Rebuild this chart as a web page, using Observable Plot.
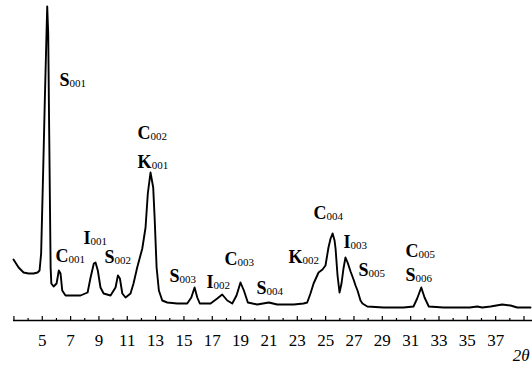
<!DOCTYPE html>
<html>
<head>
<meta charset="utf-8">
<script src="https://cdn.jsdelivr.net/npm/d3@7"></script>
<script src="https://cdn.jsdelivr.net/npm/@observablehq/plot@0.6"></script>
<style>
  html, body { margin: 0; padding: 0; background: #fff; }
  #chart svg { display: block; }
</style>
</head>
<body>
<div id="chart"></div>
<script>
// 2θ positions (degrees)
const twoTheta = [2.97, 3.33, 3.68, 4.03, 4.39, 4.67, 4.81, 4.92, 5.07, 5.18, 5.30, 5.35, 5.42, 5.49, 5.54, 5.59, 5.64, 5.80, 6.01, 6.17, 6.29, 6.41, 6.64, 7.21, 7.70, 8.20, 8.41, 8.64, 8.76, 8.92, 9.11, 9.33, 9.82, 10.17, 10.34, 10.48, 10.65, 10.88, 11.23, 11.44, 11.70, 12.06, 12.29, 12.45, 12.64, 12.83, 12.93, 13.07, 13.23, 13.47, 13.82, 14.53, 15.23, 15.52, 15.75, 15.94, 16.12, 16.88, 17.35, 17.70, 18.06, 18.41, 18.71, 18.99, 19.23, 19.51, 20.17, 20.99, 21.58, 22.76, 23.44, 23.70, 23.93, 24.15, 24.50, 24.78, 24.99, 25.20, 25.35, 25.49, 25.63, 25.70, 25.84, 25.98, 26.12, 26.26, 26.40, 26.55, 26.76, 26.97, 27.11, 27.25, 27.46, 27.60, 27.94, 29.09, 30.50, 31.20, 31.46, 31.75, 31.98, 32.28, 33.32, 35.17, 35.70, 36.05, 36.64, 37.46, 38.05, 38.52, 39.46];
// relative intensity (arbitrary units) at each position
const intensity = [61, 53, 48, 47, 47, 48, 50, 67, 153, 220, 287, 314, 287, 187, 120, 53, 37, 34, 37, 50, 47, 30, 25, 25, 25, 28, 43, 57, 58, 50, 33, 27, 25, 33, 45, 42, 27, 23, 27, 37, 53, 72, 93, 127, 148, 133, 103, 53, 30, 20, 18, 17, 17, 23, 33, 23, 17, 17, 22, 26, 20, 17, 25, 38, 30, 18, 16, 18, 16, 16, 17, 18, 27, 37, 48, 51, 55, 73, 82, 87, 80, 72, 45, 28, 37, 52, 63, 58, 49, 41, 35, 30, 20, 17, 14, 13, 13, 14, 22, 33, 23, 14, 13, 13, 14, 13, 14, 16, 15, 13, 13];

// axis ticks and labels
const tickValues = d3.range(3, 40);
const tickLabels = [5, 7, 9, 11, 13, 15, 17, 19, 21, 23, 25, 27, 29, 31, 33, 35, 37];

// peak annotations: mineral letter, reflection index, label anchor (2θ, intensity)
const peakLetter = ["S", "C", "I", "S", "C", "K", "S", "I", "C", "S", "K", "C", "I", "S", "C", "S"];
const peakIndex = ["001", "001", "001", "002", "002", "001", "003", "002", "003", "004", "002", "004", "003", "005", "005", "006"];
const labelTheta = [6.22, 5.94, 7.91, 9.40, 11.73, 11.73, 13.98, 16.59, 17.87, 20.12, 22.38, 24.15, 26.26, 27.32, 30.64, 30.64];
const labelIntensity = [240, 64, 82, 63, 187, 158, 44, 38, 61, 32, 63, 107, 78, 50, 69, 45];

const pattern = twoTheta.map((t, i) => ({t, v: intensity[i]}));
const peaks = peakLetter.map((l, i) => ({letter: l, index: peakIndex[i], t: labelTheta[i], v: labelIntensity[i]}));

const serif = "'Liberation Serif', 'Times New Roman', serif";

const chart = Plot.plot({
  width: 532,
  height: 375,
  marginLeft: 13,
  marginRight: 0,
  marginTop: 5,
  marginBottom: 55,
  style: {background: "#fff", fontFamily: serif, color: "#000"},
  x: {domain: [2.97, 39.6]},
  y: {domain: [0, 315], axis: null},
  marks: [
    Plot.ruleY([0], {stroke: "#000", strokeWidth: 1.6}),
    Plot.ruleX(tickValues, {x: d => d, y1: 0, y2: d => (d % 2 ? 4 : 2), stroke: "#000", strokeWidth: 1.2}),
    Plot.axisX({ticks: tickLabels, tickSize: 0, tickPadding: 13, fontSize: 17, fontFamily: serif, label: null, tickFormat: d => String(d)}),
    Plot.line(pattern, {x: "t", y: "v", stroke: "#000", strokeWidth: 1.9, strokeLinejoin: "round"}),
    Plot.text(peaks, {x: "t", y: "v", text: d => d.letter + d.index, textAnchor: "start", fontSize: 18, fontWeight: "bold", fontFamily: serif, fill: "#000"}),
    Plot.text(["2θ"], {frameAnchor: "bottom-right", dx: -3, dy: 40, textAnchor: "end", fontSize: 17, fontStyle: "italic", fontFamily: serif, fill: "#000"})
  ]
});

// render the reflection index as a smaller subscript
d3.select(chart).selectAll("text").each(function () {
  const s = this.textContent;
  if (!/^[SCIK]\d{3}$/.test(s)) return;
  const el = d3.select(this);
  el.text(null);
  el.append("tspan").text(s.slice(0, 1));
  el.append("tspan").attr("font-size", 11).attr("font-weight", "normal").attr("dy", "0.05em").text(s.slice(1));
});

document.getElementById("chart").appendChild(chart);
</script>
</body>
</html>
